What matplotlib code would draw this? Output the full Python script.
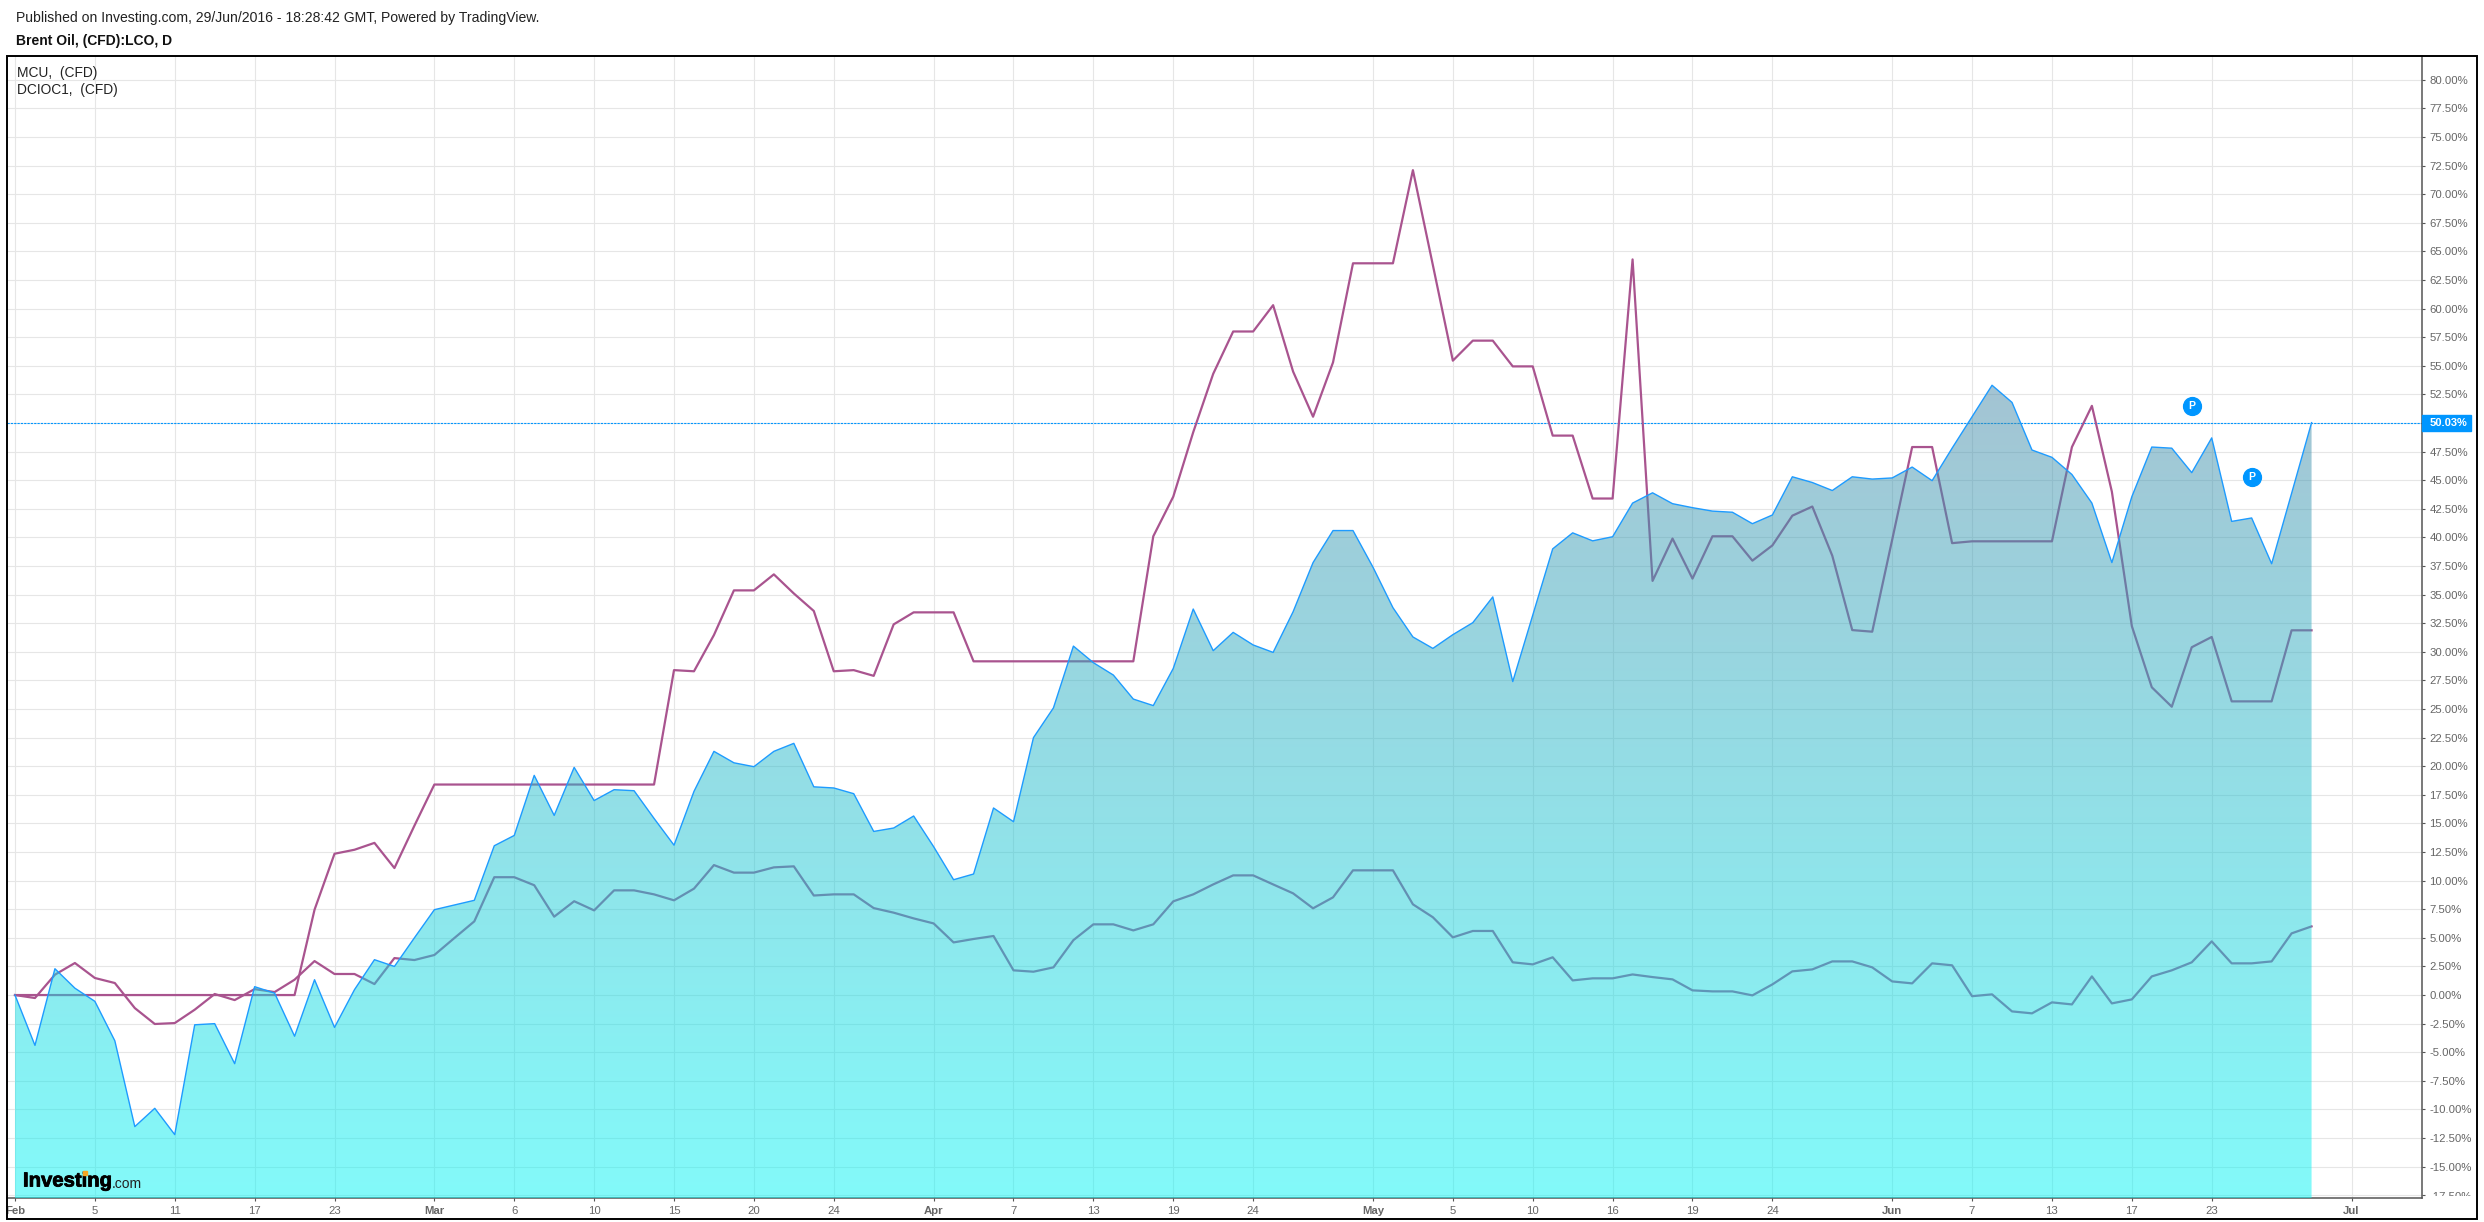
import numpy as np
import matplotlib
matplotlib.use("Agg")
import matplotlib.pyplot as plt
import matplotlib.patheffects as pe
from matplotlib.patches import Rectangle
from matplotlib.transforms import Bbox, TransformedBbox

W, H = 2484, 1222

# valores em % (um ponto por pregao, a partir de 1 Feb)
brent = [0, -4.4, 2.3, 0.6, -0.55, -4.0, -11.5, -9.9, -12.2, -2.6,
         -2.5, -6.0, 0.73, 0.17, -3.6, 1.34, -2.83, 0.47, 3.09, 2.5,
         5.0, 7.46, 7.87, 8.28, 13.05, 13.95, 19.2, 15.7, 19.9, 17.0,
         17.95, 17.86, 15.44, 13.1, 17.8, 21.3, 20.3, 19.96, 21.3, 22.0,
         18.2, 18.1, 17.6, 14.3, 14.6, 15.65, 12.97, 10.08, 10.58, 16.35,
         15.15, 22.5, 25.1, 30.5, 29.05, 27.97, 25.87, 25.3, 28.55, 33.74,
         30.1, 31.7, 30.6, 29.95, 33.5, 37.8, 40.6, 40.6, 37.4, 33.86,
         31.3, 30.3, 31.5, 32.55, 34.8, 27.4, 33.2, 39.0, 40.4, 39.7,
         40.06, 43.0, 43.9, 42.95, 42.6, 42.3, 42.2, 41.2, 41.96, 45.3,
         44.8, 44.1, 45.3, 45.1, 45.2, 46.15, 44.96, 47.8, 50.55, 53.3,
         51.8, 47.64, 47.0, 45.5, 43.0, 37.8, 43.56, 47.9, 47.8, 45.66,
         48.7, 41.4, 41.7, 37.7, 43.85, 50.03]

mcu = [0, -0.26, 1.78, 2.8, 1.49, 1.05, -1.14, -2.53, -2.45, -1.28,
       0.09, -0.44, 0.52, 0.26, 1.34, 2.97, 1.84, 1.84, 0.96, 3.23,
       3.06, 3.5, 4.98, 6.44, 10.3, 10.3, 9.6, 6.85, 8.2, 7.4,
       9.15, 9.15, 8.8, 8.28, 9.3, 11.36, 10.7, 10.7, 11.16, 11.25,
       8.7, 8.8, 8.8, 7.6, 7.2, 6.7, 6.26, 4.6, 4.9, 5.16,
       2.16, 2.04, 2.42, 4.8, 6.18, 6.18, 5.65, 6.18, 8.19, 8.8,
       9.67, 10.46, 10.46, 9.67, 8.89, 7.58, 8.54, 10.9, 10.9, 10.9,
       7.93, 6.8, 5.04, 5.6, 5.6, 2.86, 2.68, 3.3, 1.28, 1.46,
       1.46, 1.8, 1.57, 1.37, 0.41, 0.32, 0.32, -0.03, 0.93, 2.07,
       2.24, 2.94, 2.94, 2.42, 1.19, 1.02, 2.77, 2.6, -0.1, 0.06,
       -1.43, -1.6, -0.64, -0.82, 1.63, -0.73, -0.38, 1.63, 2.16, 2.86,
       4.69, 2.77, 2.77, 2.94, 5.39, 6.0]

dcioc1 = [0, 0, 0, 0, 0, 0, 0, 0, 0, 0,
          0, 0, 0, 0, 0, 7.46, 12.35, 12.7, 13.3, 11.1,
          14.8, 18.4, 18.4, 18.4, 18.4, 18.4, 18.4, 18.4, 18.4, 18.4,
          18.4, 18.4, 18.4, 28.4, 28.3, 31.47, 35.37, 35.37, 36.77, 35.1,
          33.57, 28.3, 28.4, 27.9, 32.4, 33.45, 33.45, 33.45, 29.17, 29.17,
          29.17, 29.17, 29.17, 29.17, 29.17, 29.17, 29.17, 40.1, 43.56, 49.2,
          54.3, 58.0, 58.0, 60.3, 54.5, 50.55, 55.3, 63.96, 63.96, 63.96,
          72.1, 63.8, 55.45, 57.2, 57.2, 54.95, 54.95, 48.9, 48.9, 43.4,
          43.4, 64.3, 36.2, 39.9, 36.4, 40.1, 40.1, 37.97, 39.3, 41.9,
          42.7, 38.4, 31.9, 31.76, 39.8, 47.9, 47.9, 39.5, 39.66, 39.66,
          39.66, 39.66, 39.66, 47.9, 51.5, 44.0, 32.25, 26.9, 25.2, 30.4,
          31.3, 25.67, 25.67, 25.67, 31.88, 31.88]

x_ticks = [0, 4, 8, 12, 16, 21, 25, 29, 33, 37, 41, 46, 50, 54, 58, 62, 68, 72, 76, 80, 84, 88, 94, 98, 102, 106, 110, 117]
x_labels = ["Feb", "5", "11", "17", "23", "Mar", "6", "10", "15", "20", "24", "Apr", "7", "13", "19", "24",
            "May", "5", "10", "16", "19", "24", "Jun", "7", "13", "17", "23", "Jul"]
meses = ["Feb", "Mar", "Apr", "May", "Jun", "Jul"]
y_ticks = np.arange(-15, 80.1, 2.5)
ultimo = 50.03
badge_x = [109, 112]
badge_y = [51.5, 45.3]

plt.rcParams["font.family"] = ["Liberation Sans", "DejaVu Sans"]

fig = plt.figure(figsize=(W / 100, H / 100), dpi=100)
ax = fig.add_axes([7 / W, 1 - 1198 / H, (2422 - 7) / W, (1198 - 56) / H])
x = np.arange(len(brent))
xlim = (-0.4, 120.53)
ylim = (-17.74, 82.08)

# grade e linhas ficam embaixo da area (ela e translucida)
ax.set_axisbelow(True)
ax.grid(True, color="#e6e6e6", lw=0.8)
ax.axhline(ultimo, color="#0096ff", lw=0.8, ls=(0, (2, 1)), zorder=2)
ax.plot(x, mcu, color="#a9548f", lw=1.6, zorder=2)
ax.plot(x, dcioc1, color="#a9548f", lw=1.6, zorder=2)

# area com gradiente
cor_topo = np.array([71, 137, 167]) / 255
cor_base = np.array([5, 245, 245]) / 255
t = np.linspace(0, 1, 256)[:, None]
grad = np.zeros((256, 1, 4))
grad[:, 0, :3] = cor_topo * (1 - t) + cor_base * t
grad[:, 0, 3] = 0.5
im = ax.imshow(grad, extent=[0, len(brent) - 1, ylim[0], max(brent)], aspect="auto", zorder=3)
poly = ax.fill_between(x, brent, ylim[0], facecolor="none", edgecolor="none")
im.set_clip_path(poly.get_paths()[0], transform=ax.transData)
ax.plot(x, brent, color="#1e9bff", lw=1.0, zorder=4)

# marcadores P
ax.scatter(badge_x, badge_y, s=165, color="#0096ff", zorder=5)
for bx, by in zip(badge_x, badge_y):
    ax.text(bx, by, "P", color="white", fontsize=7.5, fontweight="bold", ha="center", va="center", zorder=6)

ax.set_xlim(xlim)
ax.set_ylim(ylim)

ax.set_xticks(x_ticks)
ax.set_xticklabels(x_labels)
for lbl in ax.get_xticklabels():
    if lbl.get_text() in meses:
        lbl.set_fontweight("bold")
ax.set_yticks(list(y_ticks) + [-17.5])
ax.set_yticklabels([f"{v:.2f}%" for v in y_ticks] + [""])
ax.yaxis.tick_right()
ax.tick_params(axis="y", length=2.4, width=0.8, color="#555555", labelcolor="#666666", labelsize=8.2, pad=2.8)
ax.tick_params(axis="x", length=2.4, width=0.8, color="#555555", labelcolor="#666666", labelsize=8.2, pad=3.2)
for lado in ["top", "left"]:
    ax.spines[lado].set_visible(False)
for lado in ["right", "bottom"]:
    ax.spines[lado].set_color("#555555")
    ax.spines[lado].set_linewidth(1.1)

# -17.50% aparece cortado na base do eixo
tr = ax.get_yaxis_transform()
corte = ax.text(1.003, -17.65, "-17.50%", transform=tr, color="#666666", fontsize=8.2, va="center", clip_on=True)
corte.set_clip_box(TransformedBbox(Bbox([[1, 0.0015], [1.03, 1]]), ax.transAxes))

# etiqueta do ultimo preco
ax.add_patch(Rectangle((1, ultimo - 0.7), 49 / 2415, 1.4, transform=tr, color="#0096ff", clip_on=False, zorder=10))
ax.text(1.003, ultimo, f"{ultimo:.2f}%", transform=tr, color="white", fontsize=8.0, fontweight="bold",
        va="center", zorder=11)

# moldura externa
fig.add_artist(Rectangle((7 / W, 1 - 1219 / H), (2477 - 7) / W, (1219 - 56) / H, transform=fig.transFigure,
                         fill=False, edgecolor="black", lw=1.4))


def txt(px, py, s, **kw):
    return fig.text(px / W, 1 - py / H, s, va="center", **kw)


txt(16, 18, "Published on Investing.com, 29/Jun/2016 - 18:28:42 GMT, Powered by TradingView.", fontsize=10.05, color="#222222")
txt(16, 41, "Brent Oil, (CFD):LCO, D", fontsize=10.0, fontweight="bold", color="#111111")
txt(17, 73, "MCU,  (CFD)", fontsize=9.9, color="#222222")
txt(17, 90, "DCIOC1,  (CFD)", fontsize=9.9, color="#222222")

# logo
logo = txt(23, 1181, "Investing", fontsize=14.6, fontweight="bold", color="black", zorder=20)
logo.set_path_effects([pe.withStroke(linewidth=0.6, foreground="black")])
txt(112, 1184, ".com", fontsize=10.0, color="#222222", zorder=20)
fig.add_artist(Rectangle((83 / W, 1 - 1175 / H), 4 / W, 4 / H, transform=fig.transFigure, color="#f5a623", zorder=21))

fig.savefig("out.png", dpi=100)
